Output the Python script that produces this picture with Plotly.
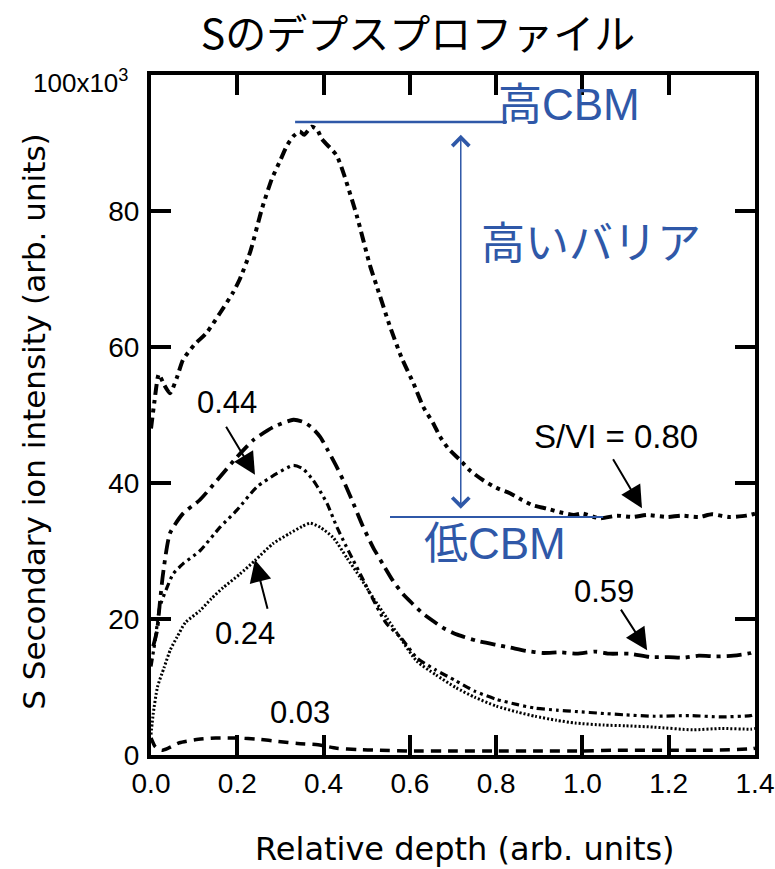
import plotly.graph_objects as go

# ---------------- data ----------------
x_080 = [0.0, 0.008, 0.018, 0.03, 0.044, 0.06, 0.074, 0.1, 0.129, 0.16, 0.19, 0.206, 0.23, 0.257,
         0.28, 0.3, 0.315, 0.33, 0.345, 0.355, 0.372, 0.385, 0.396, 0.43, 0.445, 0.477, 0.508,
         0.523, 0.554, 0.581, 0.608, 0.631, 0.654, 0.67, 0.69, 0.716, 0.74, 0.77, 0.8, 0.832,
         0.86, 0.886, 0.92, 0.948, 0.98, 1.0, 1.04, 1.08, 1.117, 1.15, 1.195, 1.23, 1.27, 1.3,
         1.34, 1.38, 1.4]
y_080 = [48, 52, 56, 54.5, 53.2, 55.5, 58.1, 60.3, 62.1, 65, 68, 70, 74, 80.3,
         84.7, 87.5, 89.6, 91, 91.7, 91.2, 92.4, 92, 90.6, 88.2, 85.8, 79.3, 71.9,
         69, 63, 58.4, 54.7, 51.2, 48.8, 46.8, 45, 43.4, 41.8, 40.4, 39.3, 38.5,
         37.5, 36.7, 36.2, 35.7, 35.3, 35.5, 34.8, 35.2, 35, 35.3, 35, 35.2, 35, 35.4,
         35, 35.2, 35.5]

x_059 = [0.005, 0.014, 0.02, 0.028, 0.044, 0.074, 0.113, 0.153, 0.199, 0.237, 0.283, 0.33,
         0.352, 0.37, 0.392, 0.41, 0.431, 0.45, 0.469, 0.49, 0.515, 0.54, 0.561, 0.585, 0.607,
         0.63, 0.654, 0.677, 0.71, 0.755, 0.8, 0.832, 0.87, 0.909, 0.95, 0.987, 1.03, 1.064,
         1.11, 1.157, 1.2, 1.233, 1.27, 1.31, 1.35, 1.39, 1.4]
y_059 = [16, 18.3, 22, 26.7, 32.6, 35.5, 37.5, 40.4, 43.8, 46.3, 48.2, 49.3,
         49, 48.3, 46.8, 44.8, 42.3, 39.8, 37, 33.8, 30.5, 27.8, 25.6, 23.6, 22.2,
         20.8, 19.7, 18.7, 17.7, 16.8, 16.2, 15.8, 15.3, 15, 15.1, 14.9, 15.2, 14.9,
         14.9, 14.4, 14.4, 14.3, 14.6, 14.5, 14.6, 15, 15.3]

x_044 = [0.0, 0.01, 0.02, 0.037, 0.051, 0.074, 0.113, 0.16, 0.199, 0.245, 0.292, 0.33, 0.352,
         0.376, 0.392, 0.408, 0.431, 0.45, 0.469, 0.49, 0.508, 0.545, 0.58, 0.616, 0.66, 0.707,
         0.75, 0.8, 0.85, 0.89, 0.94, 0.983, 1.05, 1.1, 1.166, 1.25, 1.32, 1.39, 1.4]
y_044 = [13, 17, 21.7, 24.6, 26.6, 28.1, 30, 33.5, 36, 39.4, 41.4, 42.6, 42.1,
         40.4, 38.8, 37, 33.5, 31, 28.6, 26, 23.7, 19.4, 17.2, 14.3, 12.5, 10.9,
         9.4, 8.2, 7.4, 6.9, 6.6, 6.4, 6.1, 5.9, 5.7, 5.8, 5.6, 5.8, 6]

x_024 = [0.0, 0.005, 0.015, 0.03, 0.045, 0.06, 0.08, 0.113, 0.14, 0.167, 0.206, 0.241, 0.283,
         0.322, 0.35, 0.369, 0.392, 0.422, 0.454, 0.485, 0.515, 0.546, 0.577, 0.616, 0.66,
         0.707, 0.75, 0.8, 0.85, 0.89, 0.94, 0.983, 1.05, 1.1, 1.166, 1.256, 1.32, 1.39, 1.4]
y_024 = [3, 6, 10, 12.8, 15.5, 17.3, 19.5, 21.2, 23, 24.6, 26.6, 28.6, 31.1,
         32.6, 33.6, 34.1, 33.5, 32, 29, 26.1, 23.1, 20.2, 17.3, 13.8, 11.8,
         9.9, 8.5, 7.2, 6.3, 5.7, 5.1, 4.7, 4.4, 4.3, 4.1, 3.7, 3.9, 3.8, 3.9]

x_003 = [0.0, 0.01, 0.025, 0.04, 0.066, 0.11, 0.15, 0.2, 0.25, 0.295, 0.34, 0.387, 0.43, 0.48,
         0.524, 0.6, 0.707, 0.8, 0.9, 1.0, 1.07, 1.2, 1.3, 1.39, 1.4]
y_003 = [2.5, 1.2, 0.7, 1.0, 1.8, 2.3, 2.5, 2.5, 2.3, 2.0, 1.7, 1.5, 1.0, 0.8,
         0.7, 0.6, 0.6, 0.6, 0.6, 0.6, 0.7, 0.7, 0.7, 0.9, 1.0]

x_ticks = [0.0, 0.2, 0.4, 0.6, 0.8, 1.0, 1.2, 1.4]
y_ticks = [0, 20, 40, 60, 80]

# annotation values (data units)
high_cbm = 93.1
low_cbm = 35.0
high_line_x = [0.334, 0.825]
low_line_x = [0.554, 1.048]
barrier_x = 0.718
barrier_y = [36.0, 91.2]

labels = [
    # text, label x, label y, arrow tail x, tail y, tip x, tip y, font size
    ("S/VI = 0.80", 1.078, 46.8, 1.069, 43.7, 1.138, 36.3, 33),
    ("0.59", 1.05, 24.0, 1.087, 21.6, 1.15, 15.4, 31),
    ("0.44", 0.176, 51.9, 0.172, 48.5, 0.241, 41.2, 31),
    ("0.24", 0.218, 17.9, 0.271, 21.3, 0.241, 28.7, 31),
    ("0.03", 0.345, 6.3, None, None, None, None, 31),
]

BLUE = "#2F58A8"
BLACK = "#000000"
TICK_FONT = dict(family="Liberation Sans, Arial, sans-serif", size=28, color=BLACK)
BLUE_FONT = dict(family="Liberation Sans, Noto Sans CJK JP, sans-serif", size=44, color=BLUE)

W, H = 775, 869

fig = go.Figure()

series = [
    (x_080, y_080, "11px,5px,4px,5px,4px,5px", 4),
    (x_059, y_059, "15px,6px,4px,6px", 3.8),
    (x_044, y_044, "8px,4px,3px,4px,3px,4px", 3.2),
    (x_024, y_024, "2px,2px", 3),
    (x_003, y_003, "10px,7px", 3.5),
]
for xs, ys, dash, w in series:
    fig.add_trace(go.Scatter(x=xs, y=ys, mode="lines",
                             line=dict(color=BLACK, width=w, dash=dash, shape="spline", smoothing=0.6),
                             hoverinfo="skip"))

# blue level lines
fig.add_shape(type="line", x0=high_line_x[0], x1=high_line_x[1], y0=high_cbm, y1=high_cbm,
              line=dict(color=BLUE, width=2.5), xref="x", yref="y")
fig.add_shape(type="line", x0=low_line_x[0], x1=low_line_x[1], y0=low_cbm, y1=low_cbm,
              line=dict(color=BLUE, width=2), xref="x", yref="y")

# double arrow
fig.add_annotation(x=barrier_x, y=barrier_y[1], ax=barrier_x, ay=barrier_y[0],
                   xref="x", yref="y", axref="x", ayref="y", text="",
                   showarrow=True, arrowside="end+start", arrowhead=4, startarrowhead=4,
                   arrowsize=2.2, startarrowsize=2.2, arrowwidth=1.5, arrowcolor=BLUE)

# blue texts
fig.add_annotation(x=0.97, y=high_cbm + 2.6, xref="x", yref="y", text="高CBM",
                   showarrow=False, font=BLUE_FONT, xanchor="center", yanchor="middle")
fig.add_annotation(x=1.02, y=75.2, xref="x", yref="y", text="高いバリア",
                   showarrow=False, font=BLUE_FONT, xanchor="center", yanchor="middle")
fig.add_annotation(x=0.797, y=31.1, xref="x", yref="y", text="低CBM",
                   showarrow=False, font=BLUE_FONT, xanchor="center", yanchor="middle")

# black labels with arrows
for text, lx, ly, tx, ty, hx, hy, fs in labels:
    fig.add_annotation(x=lx, y=ly, xref="x", yref="y", text=text, showarrow=False,
                       font=dict(family="Liberation Sans, Arial, sans-serif", size=fs, color=BLACK),
                       xanchor="center", yanchor="middle")
    if tx is not None:
        fig.add_annotation(x=hx, y=hy, ax=tx, ay=ty, xref="x", yref="y", axref="x", ayref="y",
                           text="", showarrow=True, arrowhead=2, arrowsize=2.2,
                           arrowwidth=2, arrowcolor=BLACK)

# axis titles and exponent label
fig.add_annotation(x=0.52, y=0.0, xref="paper", yref="paper", yshift=-94,
                   text="Relative depth (arb. units)", showarrow=False,
                   font=dict(family="DejaVu Sans, sans-serif", size=32, color=BLACK),
                   xanchor="center", yanchor="middle")
fig.add_annotation(x=0.0, y=0.49, xref="paper", yref="paper", xshift=-117,
                   text="S Secondary ion intensity (arb. units)", showarrow=False,
                   font=dict(family="DejaVu Sans, sans-serif", size=31, color=BLACK),
                   textangle=-90, xanchor="center", yanchor="middle")
fig.add_annotation(x=0.0, y=100, xref="paper", yref="y", xshift=-21, yshift=-6,
                   text="100x10<sup>3</sup>", showarrow=False,
                   font=dict(family="Liberation Sans, Arial, sans-serif", size=26, color=BLACK),
                   xanchor="right", yanchor="middle")

axis_common = dict(showline=True, linewidth=4, linecolor=BLACK, mirror="ticks",
                   ticks="inside", ticklen=20, tickwidth=4, tickcolor=BLACK,
                   showgrid=False, zeroline=False, tickfont=TICK_FONT,
                   automargin=False, ticklabeloverflow="allow")
fig.update_xaxes(range=[0, 1.4], tickvals=x_ticks, ticktext=[f"{v:.1f}" for v in x_ticks],
                 **axis_common)
fig.update_yaxes(range=[0, 100], tickvals=y_ticks, ticktext=[str(v) for v in y_ticks],
                 ticklabelstandoff=2, **axis_common)

fig.update_layout(width=W, height=H, margin=dict(l=151, r=20, t=75, b=114),
                  title=dict(text="Sのデプスプロファイル", x=418 / W, xanchor="center",
                             y=1 - 35 / H, yref="container", yanchor="middle",
                             font=dict(family="Noto Sans CJK JP, sans-serif", size=41, color=BLACK)),
                  plot_bgcolor="white", paper_bgcolor="white", showlegend=False)

# remove the default page margin so the figure fills the window exactly; hide the modebar
fig.write_html("out.html", config={"displayModeBar": False},
               post_script="document.body.style.margin='0';document.body.style.overflow='hidden';")
